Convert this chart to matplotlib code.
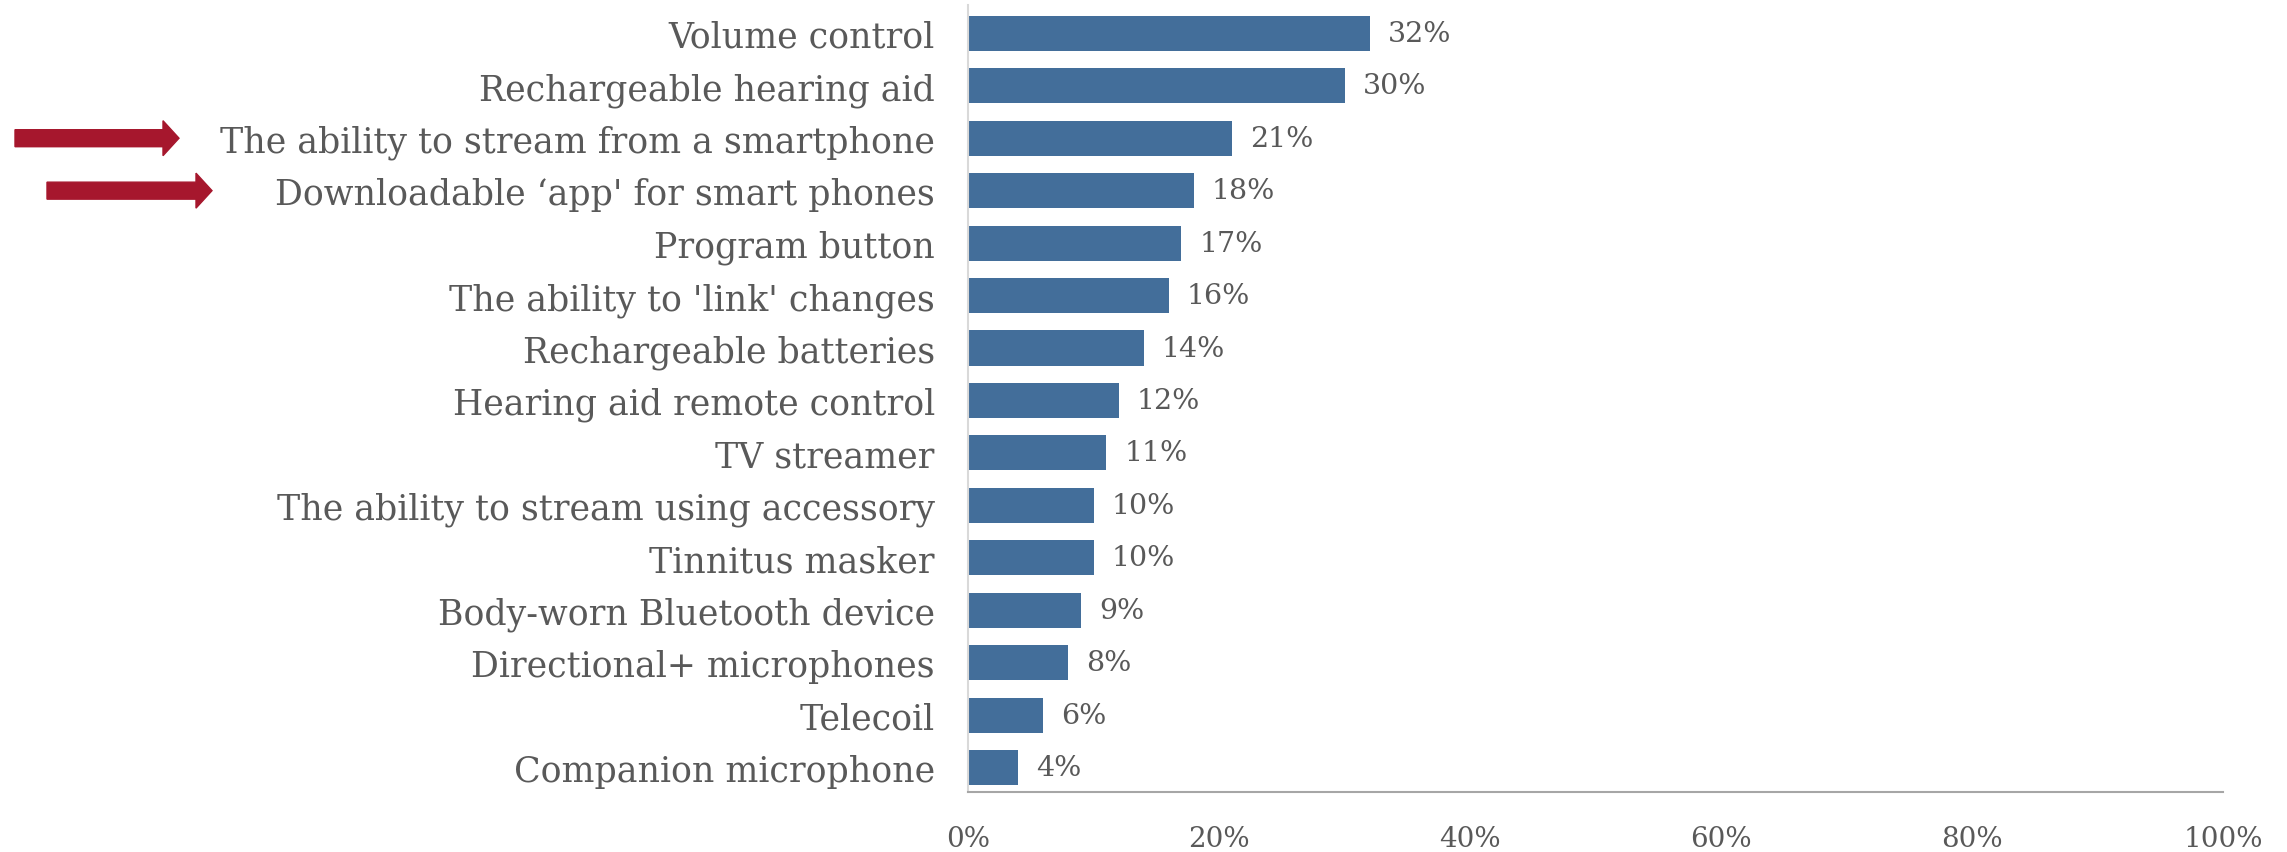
import matplotlib.pyplot as plt
from matplotlib.patches import FancyArrow

# Feature ranking data (top to bottom)
features = [
    "Volume control",
    "Rechargeable hearing aid",
    "The ability to stream from a smartphone",
    "Downloadable \u2018app' for smart phones",
    "Program button",
    "The ability to 'link' changes",
    "Rechargeable batteries",
    "Hearing aid remote control",
    "TV streamer",
    "The ability to stream using accessory",
    "Tinnitus masker",
    "Body-worn Bluetooth device",
    "Directional+ microphones",
    "Telecoil",
    "Companion microphone",
]
shares = [32, 30, 21, 18, 17, 16, 14, 12, 11, 10, 10, 9, 8, 6, 4]
ticks = [0, 20, 40, 60, 80, 100]
highlighted = [2, 3]  # rows marked with an arrow

bar_color = "#436E9A"
text_color = "#595959"
arrow_color = "#A6172D"

plt.rcParams['font.family'] = ['DejaVu Serif']

fig = plt.figure(figsize=(22.87, 8.53), dpi=100)
ax = fig.add_axes([0.4233, 0.0703, 0.972 - 0.4233, 0.993 - 0.0703])

ypos = list(range(len(features)))
ax.barh(ypos, shares, height=0.67, color=bar_color)

for y, v in zip(ypos, shares):
    ax.annotate(f"{v}%", (v, y), xytext=(13, 0), textcoords="offset points",
                va="center", ha="left", fontsize=20.5, color=text_color)

ax.set_xlim(0, 100)
ax.set_ylim(len(features) - 1 + 0.465, -0.54)
ax.set_yticks(ypos)
ax.set_yticklabels(features, fontsize=25, color=text_color)
ax.set_xticks(ticks)
ax.set_xticklabels([f"{t}%" for t in ticks], fontsize=20, color=text_color)
ax.tick_params(axis="y", length=0, pad=24)
ax.tick_params(axis="x", length=0, pad=24)

for s in ["top", "right"]:
    ax.spines[s].set_visible(False)
ax.spines["left"].set_color("#D9D9D9")
ax.spines["left"].set_linewidth(1.5)
ax.spines["bottom"].set_color("#A6A6A6")
ax.spines["bottom"].set_linewidth(1.5)

# red pointers next to the smartphone-related rows
arrow_x = {2: (0.15, 1.79), 3: (0.47, 2.12)}
for row in highlighted:
    x0, x1 = arrow_x[row]
    yfig = ax.transData.transform((0, row))[1] / fig.dpi
    fig.patches.append(FancyArrow(x0, yfig, x1 - x0, 0, width=0.17, head_width=0.35,
                                  head_length=0.16, length_includes_head=True,
                                  color=arrow_color, transform=fig.dpi_scale_trans))

fig.savefig("out.png", dpi=100)
